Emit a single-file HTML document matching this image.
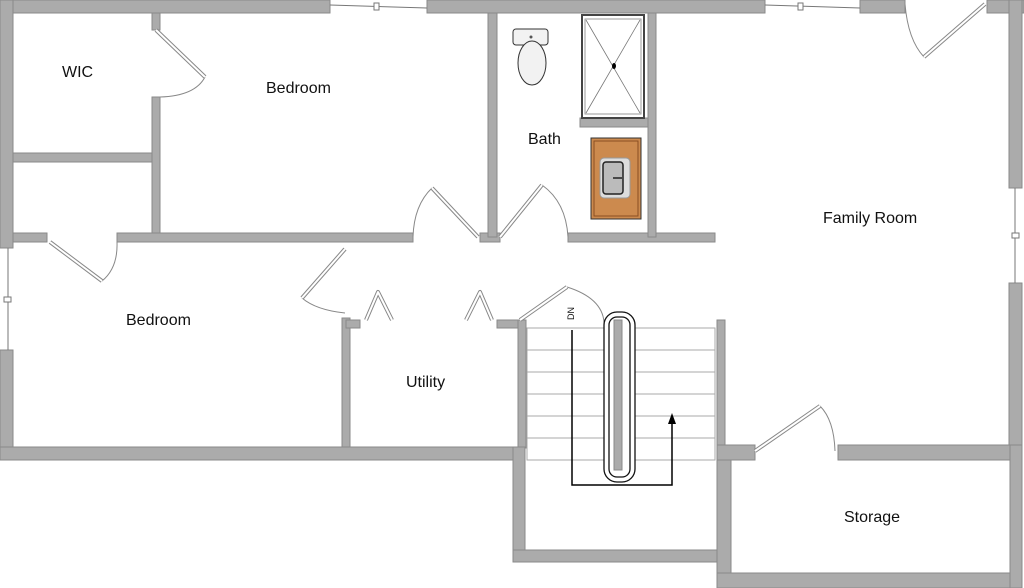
<!DOCTYPE html>
<html><head><style>html,body{margin:0;padding:0;background:#fff}svg{display:block}text{font-family:"Liberation Sans",sans-serif;font-size:16px;fill:#111}</style></head><body>
<svg width="1024" height="588" viewBox="0 0 1024 588" xmlns="http://www.w3.org/2000/svg">
<g fill="#ababab" stroke="#8a8a8a" stroke-width="1">
<rect x="0" y="0" width="330" height="13"/>
<rect x="427" y="0" width="338" height="13"/>
<rect x="860" y="0" width="45" height="13"/>
<rect x="987" y="0" width="37" height="13"/>
<rect x="0" y="0" width="13" height="248"/>
<rect x="0" y="350" width="13" height="110"/>
<rect x="1009" y="0" width="13" height="188"/>
<rect x="1009" y="283" width="13" height="170"/>
<rect x="152" y="13" width="8" height="17"/>
<rect x="152" y="97" width="8" height="140"/>
<rect x="13" y="153" width="139" height="9"/>
<rect x="13" y="233" width="34" height="9"/>
<rect x="117" y="233" width="296" height="9"/>
<rect x="480" y="233" width="20" height="9"/>
<rect x="568" y="233" width="147" height="9"/>
<rect x="488" y="13" width="9" height="224"/>
<rect x="648" y="13" width="8" height="224"/>
<rect x="580" y="118" width="68" height="9"/>
<rect x="342" y="318" width="8" height="130"/>
<rect x="346" y="320" width="14" height="8"/>
<rect x="497" y="320" width="28" height="8"/>
<rect x="518" y="320" width="8" height="128"/>
<rect x="0" y="447" width="525" height="13"/>
<rect x="513" y="447" width="12" height="115"/>
<rect x="513" y="550" width="204" height="12"/>
<rect x="717" y="320" width="8" height="132"/>
<rect x="717" y="445" width="14" height="143"/>
<rect x="717" y="445" width="38" height="15"/>
<rect x="838" y="445" width="184" height="15"/>
<rect x="717" y="573" width="305" height="15"/>
<rect x="1010" y="445" width="12" height="143"/>
</g>
<g stroke="#777" stroke-width="1" fill="#fff">
<line x1="330" y1="5" x2="427" y2="8"/><rect x="374" y="3" width="5" height="7"/>
<line x1="765" y1="5" x2="860" y2="8"/><rect x="798" y="3" width="5" height="7"/>
<line x1="8" y1="248" x2="8" y2="350"/><rect x="4" y="297" width="7" height="5"/>
<line x1="1015" y1="188" x2="1015" y2="283"/><rect x="1012" y="233" width="7" height="5"/>
</g>
<g stroke="#888" stroke-width="1" fill="none">
<path d="M160 97 Q195 96 205 77"/>
<path d="M117 242 Q118 268 102 281"/>
<path d="M413 237 Q414 205 432 188"/>
<path d="M568 237 Q566 202 542 185"/>
<path d="M345 313 Q316 310 302 298"/>
<path d="M604 322 Q602 298 567 287"/>
<path d="M835 451 Q834 420 820 406"/>
<path d="M905 4 Q908 40 924 57"/>
</g>
<g id="leaves" stroke="#888" stroke-width="4" fill="none" stroke-linejoin="round">
<path d="M156 30 L205 77"/>
<path d="M50 242 L102 281"/>
<path d="M478 237 L432 188"/>
<path d="M500 237 L542 185"/>
<path d="M345 249 L302 298"/>
<path d="M366 320 L378 292 L392 320"/>
<path d="M492 320 L480 292 L466 320"/>
<path d="M520 320 L567 287"/>
<path d="M755 451 L820 406"/>
<path d="M985 4 L924 57"/>
</g>
<g stroke="#fff" stroke-width="2" fill="none" stroke-linejoin="round">
<path d="M156 30 L205 77"/>
<path d="M50 242 L102 281"/>
<path d="M478 237 L432 188"/>
<path d="M500 237 L542 185"/>
<path d="M345 249 L302 298"/>
<path d="M366 320 L378 292 L392 320"/>
<path d="M492 320 L480 292 L466 320"/>
<path d="M520 320 L567 287"/>
<path d="M755 451 L820 406"/>
<path d="M985 4 L924 57"/>
</g>
<rect x="513" y="29" width="35" height="16" rx="3" fill="#f2f2f2" stroke="#333"/>
<ellipse cx="532" cy="63" rx="14" ry="22" fill="#f2f2f2" stroke="#333"/>
<circle cx="531" cy="37" r="1.5" fill="#555"/>
<rect x="582" y="15" width="62" height="103" fill="#fff" stroke="#444" stroke-width="2"/>
<rect x="585" y="19" width="56" height="95" fill="#fff" stroke="#999"/>
<path d="M586 20 L640 113 M640 20 L586 113" stroke="#777" stroke-width="0.8"/>
<ellipse cx="614" cy="66" rx="2" ry="3" fill="#000"/>
<rect x="591" y="138" width="50" height="81" fill="#cc8a4e" stroke="#333"/>
<rect x="594" y="141" width="44" height="75" fill="none" stroke="#8a4e22"/>
<rect x="600" y="158" width="30" height="40" rx="4" fill="#ddd" stroke="#999"/>
<rect x="603" y="162" width="20" height="32" rx="3" fill="#bbb" stroke="#222" stroke-width="1.5"/>
<line x1="613" y1="178" x2="622" y2="178" stroke="#222" stroke-width="1.5"/>
<g stroke="#aaa" stroke-width="1" fill="none">
<rect x="527" y="328" width="188" height="132"/>
<line x1="527" y1="350" x2="715" y2="350"/><line x1="527" y1="372" x2="715" y2="372"/>
<line x1="527" y1="394" x2="715" y2="394"/><line x1="527" y1="416" x2="715" y2="416"/>
<line x1="527" y1="438" x2="715" y2="438"/>
</g>
<rect x="604" y="312" width="31" height="170" rx="13" fill="#fff" stroke="#111" stroke-width="1.3"/>
<rect x="609" y="317" width="21" height="160" rx="8" fill="#fff" stroke="#111" stroke-width="1.3"/>
<rect x="614" y="320" width="8" height="150" fill="#ababab" stroke="#888"/>
<path d="M572 330 V485 H672 V420" stroke="#000" stroke-width="1.5" fill="none"/>
<path d="M668 424 L672 413 L676 424 Z" fill="#000"/>
<text x="0" y="0" transform="translate(574,320) rotate(-90)" style="font-size:9px">DN</text>
<text x="62" y="77">WIC</text>
<text x="266" y="93">Bedroom</text>
<text x="528" y="144">Bath</text>
<text x="823" y="223">Family Room</text>
<text x="126" y="325">Bedroom</text>
<text x="406" y="387">Utility</text>
<text x="844" y="522">Storage</text>
</svg>
</body></html>
